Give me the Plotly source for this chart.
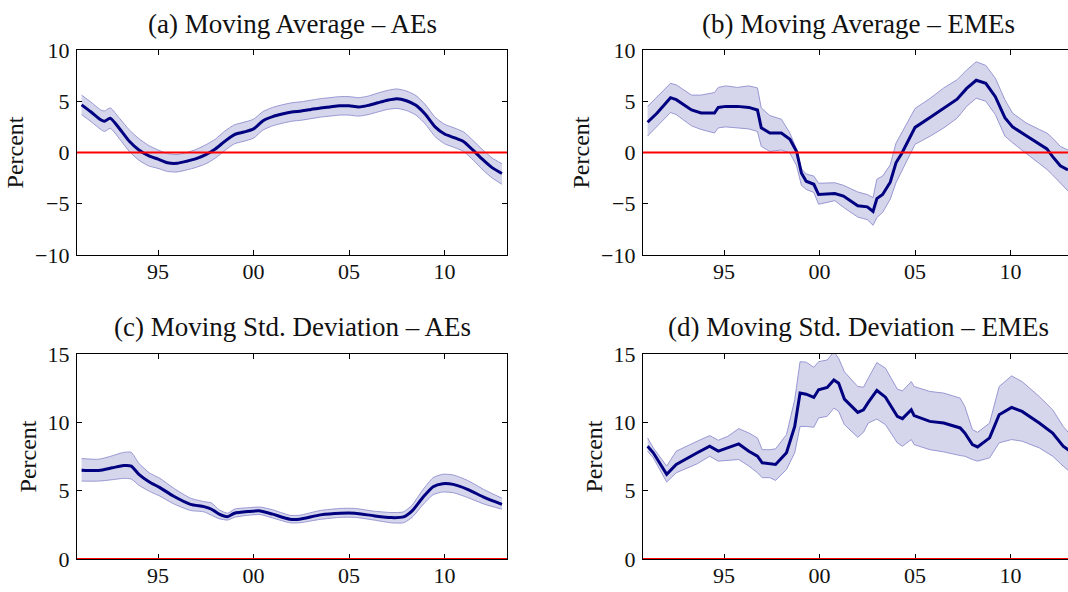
import plotly.graph_objects as go

# ---------------- data ----------------
# (a) Moving Average - AEs
x_a = [1991.0, 1991.5, 1992.0, 1992.2, 1992.5, 1993.0, 1993.5, 1994.0, 1994.5, 1995.0, 1995.5,
       1996.0, 1996.5, 1997.0, 1997.5, 1998.0, 1998.5, 1999.0, 1999.5, 2000.0, 2000.5, 2001.0,
       2001.5, 2002.0, 2002.5, 2003.0, 2003.5, 2004.0, 2004.5, 2005.0, 2005.5, 2006.0, 2006.5,
       2007.0, 2007.5, 2008.0, 2008.5, 2009.0, 2009.5, 2010.0, 2010.5, 2011.0, 2011.5, 2012.0,
       2012.5, 2013.0]
mean_a = [4.65, 3.95, 3.2, 3.05, 3.35, 2.3, 1.1, 0.25, -0.3, -0.65, -1.0, -1.05, -0.85, -0.6,
          -0.2, 0.35, 1.1, 1.75, 2.0, 2.3, 3.1, 3.5, 3.75, 3.95, 4.05, 4.2, 4.35, 4.45, 4.55,
          4.55, 4.45, 4.6, 4.85, 5.1, 5.25, 5.05, 4.6, 3.7, 2.5, 1.8, 1.45, 1.05, 0.2, -0.7,
          -1.5, -2.05]
upper_a = [5.6, 4.9, 4.15, 4.05, 4.35, 3.3, 2.2, 1.35, 0.7, 0.25, -0.1, -0.2, 0.0, 0.3, 0.75,
           1.3, 2.1, 2.7, 2.95, 3.25, 4.0, 4.4, 4.65, 4.85, 4.95, 5.1, 5.25, 5.35, 5.45, 5.45,
           5.35, 5.5, 5.8, 6.05, 6.2, 6.0, 5.55, 4.65, 3.45, 2.75, 2.4, 2.0, 1.15, 0.25, -0.55,
           -1.1]
lower_a = [3.7, 3.0, 2.25, 2.05, 2.35, 1.3, 0.1, -0.75, -1.3, -1.55, -1.85, -1.9, -1.7, -1.45,
           -1.1, -0.55, 0.2, 0.85, 1.1, 1.4, 2.2, 2.6, 2.85, 3.05, 3.15, 3.3, 3.45, 3.55, 3.65,
           3.65, 3.55, 3.7, 3.95, 4.2, 4.3, 4.1, 3.65, 2.75, 1.55, 0.85, 0.5, 0.1, -0.75, -1.7,
           -2.5, -3.1]

# (b) Moving Average - EMEs
x_b = [1991.0, 1991.5, 1992.2, 1992.5, 1993.3, 1993.8, 1994.5, 1994.7, 1995.1, 1995.7, 1996.3,
       1996.75, 1996.95, 1997.4, 1998.0, 1998.45, 1998.8, 1999.05, 1999.3, 1999.7, 1999.95,
       2000.8, 2001.25, 2002.0, 2002.5, 2002.8, 2003.0, 2003.3, 2003.7, 2004.0, 2004.3, 2005.0,
       2005.8, 2006.5, 2007.2, 2007.7, 2008.2, 2008.7, 2009.2, 2009.7, 2010.1, 2010.8, 2011.5,
       2011.9, 2012.2, 2012.6, 2013.0]
mean_b = [2.95, 3.85, 5.35, 5.15, 4.15, 3.85, 3.85, 4.4, 4.5, 4.5, 4.4, 4.15, 2.4, 1.9, 1.9,
          1.3, 0.1, -2.0, -2.8, -3.1, -4.1, -4.0, -4.25, -5.2, -5.3, -5.75, -4.5, -4.1, -2.9,
          -1.0, -0.1, 2.45, 3.45, 4.35, 5.2, 6.25, 7.05, 6.75, 5.45, 3.4, 2.5, 1.65, 0.8, 0.35,
          -0.4, -1.3, -1.7]
upper_b = [4.5, 5.45, 6.75, 6.6, 5.6, 5.6, 5.85, 6.35, 6.5, 6.35, 6.5, 6.3, 4.35, 3.6, 3.25,
           1.9, 0.3, -1.6, -2.1, -2.3, -3.0, -2.95, -3.2, -3.85, -4.1, -4.4, -2.6, -2.3, -1.2,
           0.9, 1.9, 4.3, 5.3, 6.3, 7.1, 8.05, 8.85, 8.5, 7.25, 5.15, 3.85, 2.9, 2.25, 1.9, 1.4,
           0.6, 0.25]
lower_b = [1.6, 2.55, 3.9, 3.7, 2.6, 2.25, 1.9, 2.4, 2.5, 2.4, 2.3, 2.05, 0.6, 0.1, 0.25, -0.05,
           -1.3, -3.2, -3.6, -3.9, -5.05, -4.7, -5.35, -6.3, -6.55, -7.1, -6.35, -5.85, -4.55,
           -2.95, -1.8, 0.8, 1.6, 2.4, 3.35, 4.5, 5.3, 5.0, 3.7, 1.6, 0.95, -0.05, -1.0, -1.65,
           -2.2, -2.95, -3.75]

# (c) Moving Std. Deviation - AEs
x_c = [1991.0, 1991.9, 1992.6, 1993.2, 1993.6, 1994.0, 1994.55, 1995.1, 1995.8, 1996.7, 1997.4,
       1997.8, 1998.2, 1998.65, 1999.0, 1999.7, 2000.35, 2001.0, 2001.9, 2002.4, 2003.5,
       2004.55, 2005.3, 2006.3, 2007.2, 2007.85, 2008.3, 2008.85, 2009.4, 2009.9, 2010.45,
       2011.2, 2012.1, 2013.0]
mean_c = [6.5, 6.48, 6.67, 6.84, 6.8, 6.19, 5.63, 5.22, 4.61, 4.0, 3.83, 3.64, 3.28, 3.1, 3.35,
          3.47, 3.52, 3.28, 2.91, 2.91, 3.23, 3.35, 3.35, 3.16, 3.03, 3.08, 3.52, 4.49, 5.29,
          5.51, 5.46, 5.1, 4.49, 4.0]
upper_c = [7.35, 7.3, 7.55, 7.8, 7.8, 7.0, 6.3, 5.9, 5.2, 4.45, 4.2, 4.1, 3.6, 3.35, 3.65, 3.75,
           3.8, 3.6, 3.2, 3.2, 3.55, 3.7, 3.7, 3.5, 3.4, 3.45, 3.95, 5.05, 5.95, 6.2, 6.15, 5.75,
           5.05, 4.45]
lower_c = [5.7, 5.7, 5.8, 5.9, 5.85, 5.4, 4.95, 4.6, 4.05, 3.55, 3.45, 3.2, 2.95, 2.85, 3.05,
           3.2, 3.25, 3.0, 2.65, 2.65, 2.9, 3.05, 3.05, 2.85, 2.65, 2.65, 3.05, 3.95, 4.7, 4.9,
           4.85, 4.5, 4.0, 3.65]

# (d) Moving Std. Deviation - EMEs
x_d = [1991.0, 1991.3, 1992.0, 1992.5, 1993.6, 1994.25, 1994.7, 1995.2, 1995.77, 1996.3,
       1996.75, 1997.0, 1997.4, 1997.7, 1998.27, 1998.7, 1998.98, 1999.3, 1999.7, 1999.95,
       2000.4, 2000.75, 2001.0, 2001.3, 2002.0, 2002.3, 2002.55, 2003.0, 2003.45, 2004.07,
       2004.34, 2004.8, 2004.95, 2005.77, 2006.5, 2007.36, 2007.6, 2008.0, 2008.27, 2008.9,
       2009.4, 2010.05, 2010.6, 2011.5, 2012.2, 2012.75, 2013.05]
mean_d = [8.25, 7.77, 6.19, 6.92, 7.77, 8.25, 7.89, 8.13, 8.42, 7.89, 7.52, 7.04, 6.99, 6.92,
          7.77, 9.7, 12.14, 12.06, 11.82, 12.38, 12.55, 13.1, 12.86, 11.7, 10.73, 10.92, 11.46,
          12.33, 11.84, 10.44, 10.27, 10.92, 10.49, 10.07, 9.95, 9.59, 9.22, 8.37, 8.2, 8.86,
          10.56, 11.09, 10.8, 9.95, 9.22, 8.25, 7.96]
upper_d = [8.86, 8.13, 6.8, 7.89, 8.62, 9.03, 8.69, 8.98, 9.54, 9.22, 8.86, 8.0, 8.0, 8.06, 9.1,
           11.65, 14.44, 14.4, 14.03, 14.44, 14.56, 15.17, 14.68, 13.7, 12.62, 12.57, 13.23,
           14.37, 13.96, 12.43, 12.3, 12.98, 12.62, 12.26, 12.14, 11.77, 11.17, 9.47, 9.27,
           9.95, 12.62, 13.4, 12.98, 11.89, 10.92, 9.7, 9.22]
lower_d = [7.89, 7.4, 5.63, 6.31, 6.97, 7.52, 7.16, 7.21, 7.28, 6.8, 6.31, 5.95, 5.95, 5.75,
           6.55, 7.77, 9.7, 9.7, 9.64, 10.32, 10.44, 11.04, 10.8, 9.83, 8.91, 9.27, 9.95, 10.24,
           9.83, 8.5, 8.25, 8.74, 8.37, 8.0, 7.84, 7.57, 7.52, 7.28, 7.16, 7.4, 8.5, 8.74, 8.62,
           8.13, 7.52, 6.8, 6.43]

titles = ["(a) Moving Average \u2013 AEs", "(b) Moving Average \u2013 EMEs",
          "(c) Moving Std. Deviation \u2013 AEs", "(d) Moving Std. Deviation \u2013 EMEs"]
x_tickvals = [1995, 2000, 2005, 2010]
x_ticktext = ["95", "00", "05", "10"]
y_ticks_avg = [-10, -5, 0, 5, 10]
y_ticks_std = [0, 5, 10, 15]

# ---------------- style ----------------
W, H = 1068, 592
FONT = "Liberation Serif"
TXT = "#111111"
NAVY = "#000080"
BAND = "#d5d5eb"
EDGE = "#8f8fcf"
PX_PER_YEAR = 19.107
X0 = 1990.76

panels = [
    dict(x=x_a, m=mean_a, u=upper_a, l=lower_a, ax="", left=77, top=50, bot=255, right=507,
         yr=[-10, 10], yt=y_ticks_avg, shape="spline", right_panel=False),
    dict(x=x_b, m=mean_b, u=upper_b, l=lower_b, ax="2", left=643, top=50, bot=255, right=1068,
         yr=[-10, 10], yt=y_ticks_avg, shape="linear", right_panel=True),
    dict(x=x_c, m=mean_c, u=upper_c, l=lower_c, ax="3", left=77, top=354, bot=559, right=507,
         yr=[0, 15], yt=y_ticks_std, shape="spline", right_panel=False),
    dict(x=x_d, m=mean_d, u=upper_d, l=lower_d, ax="4", left=643, top=354, bot=559, right=1068,
         yr=[0, 15], yt=y_ticks_std, shape="linear", right_panel=True),
]

fig = go.Figure()
layout = dict(width=W, height=H, margin=dict(l=0, r=0, t=0, b=0, autoexpand=False),
              paper_bgcolor="white", plot_bgcolor="white", showlegend=False,
              font=dict(family=FONT, color=TXT, size=22))
annotations = []
shapes = []

for i, p in enumerate(panels):
    xa, ya = "x" + p["ax"], "y" + p["ax"]
    line_kw = dict(shape=p["shape"], smoothing=0.6) if p["shape"] == "spline" else dict(shape="linear")
    fig.add_trace(go.Scatter(x=p["x"], y=p["l"], mode="lines", xaxis=xa, yaxis=ya,
                             line=dict(color=EDGE, width=0.9, **line_kw), hoverinfo="skip"))
    fig.add_trace(go.Scatter(x=p["x"], y=p["u"], mode="lines", xaxis=xa, yaxis=ya,
                             fill="tonexty", fillcolor=BAND,
                             line=dict(color=EDGE, width=0.9, **line_kw), hoverinfo="skip"))
    fig.add_trace(go.Scatter(x=p["x"], y=p["m"], mode="lines", xaxis=xa, yaxis=ya,
                             line=dict(color=NAVY, width=3, **line_kw), hoverinfo="skip"))

    x1 = X0 + (p["right"] - p["left"]) / PX_PER_YEAR
    layout["xaxis" + p["ax"]] = dict(
        domain=[p["left"] / W, p["right"] / W], anchor=ya, range=[X0, x1], automargin=False,
        tickvals=x_tickvals, ticktext=x_ticktext, ticks="inside", ticklen=5, tickwidth=1,
        tickcolor="black", showline=True, linecolor="black", linewidth=1.3, mirror="ticks",
        showgrid=False, zeroline=False, ticklabelstandoff=-4,
        tickfont=dict(family=FONT, size=22, color=TXT))
    layout["yaxis" + p["ax"]] = dict(
        domain=[1 - p["bot"] / H, 1 - p["top"] / H], anchor=xa, range=p["yr"], automargin=False,
        tickvals=p["yt"], ticks="inside", ticklen=5, tickwidth=1, tickcolor="black",
        showline=True, linecolor="black", linewidth=1.3,
        mirror=False if p["right_panel"] else "ticks",
        showgrid=False, zeroline=False, ticklabelstandoff=2,
        tickfont=dict(family=FONT, size=22, color=TXT),
        title=dict(text="Percent", font=dict(family=FONT, size=24, color=TXT), standoff=4))

    # red zero reference line
    shapes.append(dict(type="line", xref=xa + " domain", x0=0, x1=1, yref=ya, y0=0, y1=0,
                       line=dict(color="#ff0000", width=2), layer="above"))

    # panel title, centred on the full (unclipped) axes width
    full_center = p["left"] + 215
    ty = 24 if p["top"] < 100 else 327
    annotations.append(dict(text=titles[i], xref="paper", yref="paper",
                            x=full_center / W, y=1 - ty / H, xanchor="center", yanchor="middle",
                            showarrow=False, font=dict(family=FONT, size=27, color=TXT)))

layout["annotations"] = annotations
layout["shapes"] = shapes
fig.update_layout(**layout)
fig.write_html("out.html")
